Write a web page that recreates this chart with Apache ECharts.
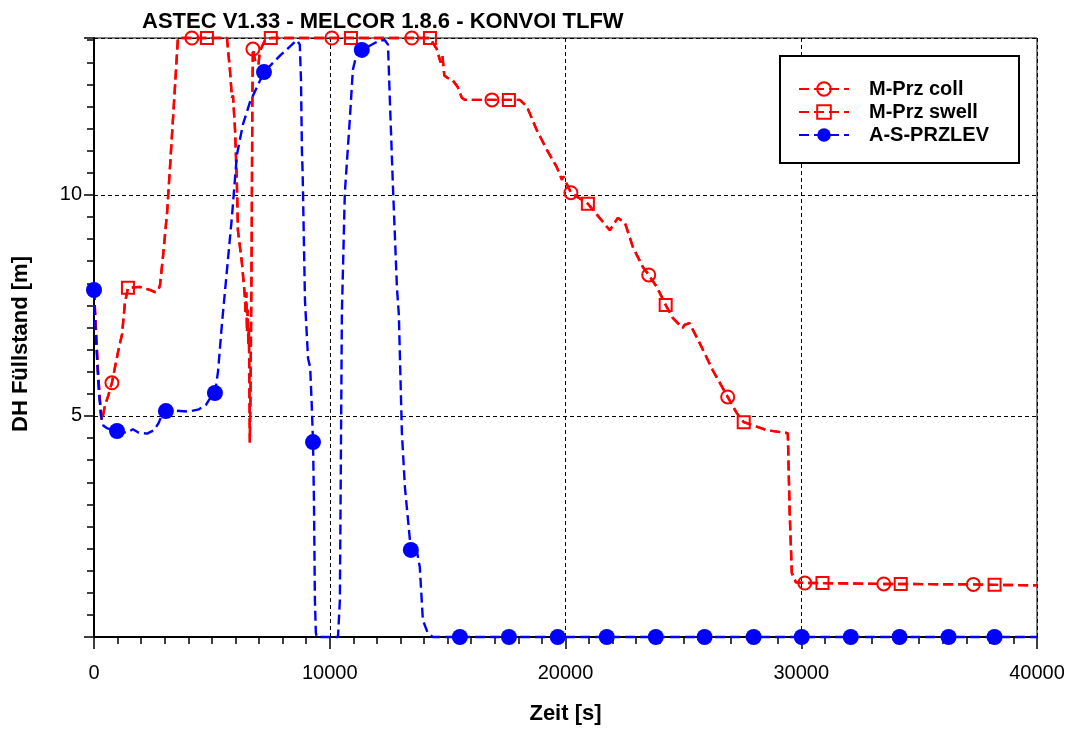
<!DOCTYPE html>
<html><head><meta charset="utf-8">
<script src="https://cdn.jsdelivr.net/npm/echarts@6/dist/echarts.min.js"></script>
<style>html,body{margin:0;padding:0;background:#fff}#c{width:1076px;height:733px}</style>
</head><body><div id="c"></div>
<script>
const titleText = 'ASTEC V1.33 - MELCOR 1.8.6 - KONVOI TLFW';
const xName = 'Zeit [s]';
const yName = 'DH Füllstand [m]';
const seriesNames = ['M-Prz coll', 'M-Prz swell', 'A-S-PRZLEV'];
const xTickValues = [0, 10000, 20000, 30000, 40000];
const yLabelValues = [5, 10];

// red path (collapsed and swell levels coincide on the picture)
const redTime = [0,80,170,300,340,470,600,760,1020,1190,1310,1440,1950,2370,2590,2710,2800,2925,3100,3220,3430,3560,4150,4790,5640,5770,5850,5895,5980,6060,6105,6275,6400,6430,6460,6490,6520,6545,6570,6590,6610,6640,6660,6690,6715,6740,6850,6980,7030,7120,7250,7500,10090,10900,13480,14250,14540,14700,14780,14860,14990,15180,15430,15600,15730,16880,17600,18060,18360,18780,19210,19630,19850,19900,20230,20950,21880,22220,22520,22860,23280,23530,23870,24250,24550,24970,25050,25260,25690,26240,26880,27260,27560,28540,29430,29510,29600,29770,30150,30900,33500,34220,37300,38200,40000];
const redLevel = [7.85,7.0,6.0,5.0,4.9,5.25,5.45,5.75,6.45,6.85,7.55,7.9,7.92,7.85,7.8,7.82,7.96,8.6,9.6,10.6,12.4,13.55,13.55,13.55,13.55,12.8,12.2,12.25,11.5,10.3,9.2,8.46,7.7,7.3,7.8,6.9,7.4,6.6,7.0,5.8,4.4,5.6,6.9,9.0,12.0,13.3,13.0,12.95,13.25,13.35,13.5,13.55,13.55,13.55,13.55,13.55,13.3,13.0,13.15,12.7,12.65,12.62,12.44,12.2,12.15,12.15,12.15,12.15,12.0,11.47,11.02,10.63,10.34,10.42,10.05,9.8,9.2,9.48,9.37,8.82,8.37,8.19,7.92,7.51,7.22,6.99,7.06,7.1,6.65,6.04,5.43,5.07,4.86,4.68,4.61,2.8,1.45,1.24,1.22,1.22,1.2,1.2,1.19,1.18,1.17];
const collMarkTime = [760,4150,6740,10090,13480,16880,20230,23530,26880,30150,33500,37300];
const swellMarkTime = [1440,4790,7500,10900,14250,17600,20950,24250,27560,30900,34220,38200];

const blueTime = [0,60,130,200,300,400,560,975,1400,1650,1900,2250,2550,2750,2900,3050,3500,4000,4450,4750,4900,5130,5260,5430,5640,5850,6060,6320,6615,7210,7890,8520,8610,8730,8780,8820,8850,8950,9080,9170,9240,9290,9330,9370,9410,9450,10350,10430,10515,10640,10850,10980,11150,11360,12130,12340,12470,12550,12680,12850,12930,13060,13190,13440,13650,13820,13950,14160,14370,15520,17600,19670,21750,23830,25900,27980,30020,32100,34170,36250,38200,40000];
const blueLevel = [7.85,7.0,6.3,5.6,5.0,4.78,4.72,4.66,4.62,4.7,4.62,4.6,4.68,4.85,5.05,5.11,5.12,5.1,5.15,5.25,5.38,5.52,6.0,7.1,8.3,9.5,10.9,11.6,12.1,12.78,13.15,13.46,13.5,13.4,12.6,11.0,10.5,7.6,6.3,6.1,5.2,4.41,3.1,0.84,0.1,0,0,0.84,7.33,10.05,11.7,12.83,13.21,13.28,13.5,13.5,13.4,12.15,10.2,7.9,7.3,4.62,3.38,1.97,2.08,1.58,0.38,0.09,0,0,0,0,0,0,0,0,0,0,0,0,0,0];
const blueMarkTime = [0,975,3050,5130,7210,9290,11360,13440,15520,17600,19670,21750,23830,25900,27980,30020,32100,34170,36250,38200];

const FONT = 'Liberation Sans, Arial, sans-serif';
const RED = '#ff0000', BLUE = '#0000ff';

function build(times, levels, marks) {
  const set = new Set(marks);
  return times.map((t, i) => set.has(t) ? {value: [t, levels[i]]} : {value: [t, levels[i]], symbol: 'none'});
}

const chart = echarts.init(document.getElementById('c'), null, {renderer: 'canvas'});
const gridLine = {show: true, lineStyle: {color: '#000', width: 1, type: [4, 3]}};

chart.setOption({
  animation: false,
  backgroundColor: '#fff',
  title: {text: titleText, left: 137, top: 6, textStyle: {fontFamily: FONT, fontSize: 22, fontWeight: 'bold', color: '#000'}},
  grid: {left: 94, right: 39, top: 38, bottom: 96, show: true, borderColor: '#000', borderWidth: 1, backgroundColor: 'transparent'},
  legend: {
    orient: 'vertical', left: 780, top: 56, padding: [23, 30, 18, 18], itemGap: 3,
    itemWidth: 50, itemHeight: 17, borderColor: '#000', borderWidth: 2, backgroundColor: '#fff',
    data: seriesNames,
    textStyle: {fontFamily: FONT, fontSize: 20, fontWeight: 'bold', color: '#000', padding: [0, 0, 0, 15]}
  },
  xAxis: {
    type: 'value', min: 0, max: 40000, interval: 10000,
    name: xName, nameLocation: 'middle', nameGap: 66,
    nameTextStyle: {fontFamily: FONT, fontSize: 22, fontWeight: 'bold', color: '#000'},
    axisLine: {show: true, onZero: false, lineStyle: {color: '#000', width: 2}},
    axisTick: {show: true, length: 12, lineStyle: {color: '#000', width: 1.5}},
    minorTick: {show: true, splitNumber: 10, length: 7, lineStyle: {color: '#000', width: 1.5}},
    axisLabel: {margin: 26, fontFamily: FONT, fontSize: 20, color: '#000',
      formatter: v => xTickValues.includes(v) ? String(v) : ''},
    splitLine: gridLine
  },
  yAxis: [{
    type: 'value', min: 0, max: 13.55, interval: 5,
    name: yName, nameLocation: 'middle', nameGap: 62, nameRotate: 90,
    nameTextStyle: {fontFamily: FONT, fontSize: 22, fontWeight: 'bold', color: '#000', padding: [0, 13, 0, 0]},
    axisLine: {show: true, onZero: false, lineStyle: {color: '#000', width: 2}},
    axisTick: {show: true, length: 10, lineStyle: {color: '#000', width: 1.5}},
    axisLabel: {margin: 12, fontFamily: FONT, fontSize: 20, color: '#000',
      formatter: v => yLabelValues.includes(v) ? String(v) : ''},
    splitLine: gridLine
  }, {
    type: 'value', min: 0, max: 13.55, interval: 0.5, position: 'left', offset: 0,
    axisLine: {show: false}, axisLabel: {show: false}, splitLine: {show: false},
    axisTick: {show: true, length: 7, lineStyle: {color: '#000', width: 1.5}}
  }],
  series: [{
    name: seriesNames[0], type: 'line', clip: false, showAllSymbol: true,
    symbol: 'circle', symbolSize: 13,
    itemStyle: {color: 'rgba(255,255,255,0)', borderColor: RED, borderWidth: 2},
    lineStyle: {color: RED, width: 2.4, type: [10, 5]},
    data: build(redTime, redLevel, collMarkTime)
  }, {
    name: seriesNames[1], type: 'line', clip: false, showAllSymbol: true,
    symbol: 'rect', symbolSize: 12,
    itemStyle: {color: 'rgba(255,255,255,0)', borderColor: RED, borderWidth: 2},
    lineStyle: {color: RED, width: 2.4, type: [10, 5]},
    data: build(redTime, redLevel, swellMarkTime)
  }, {
    name: seriesNames[2], type: 'line', clip: false, showAllSymbol: true,
    symbol: 'circle', symbolSize: 16,
    itemStyle: {color: BLUE},
    lineStyle: {color: BLUE, width: 2.4, type: [10, 5]},
    data: build(blueTime, blueLevel, blueMarkTime)
  }]
});
</script></body></html>
